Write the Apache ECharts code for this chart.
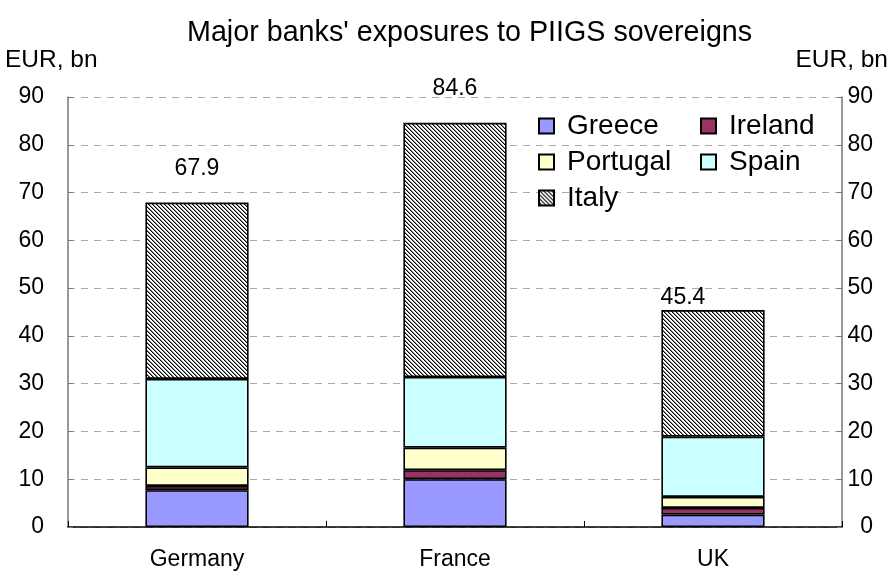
<!DOCTYPE html>
<html>
<head>
<meta charset="utf-8">
<script src="https://cdn.jsdelivr.net/npm/echarts@6/dist/echarts.min.js"></script>
<style>
  html, body { margin: 0; padding: 0; background: #fff; }
  #chart { width: 892px; height: 572px; }
</style>
</head>
<body>
<div id="chart"></div>
<script>
// Sovereign exposures by bank nationality, EUR bn
const categories = ['Germany', 'France', 'UK'];
const greece   = [7.7, 10.0, 2.6];
const ireland  = [0.9, 1.9, 1.4];
const portugal = [3.9, 4.7, 2.3];
const spain    = [18.5, 14.8, 12.6];
const italy    = [36.9, 53.2, 26.5];
const yTicks   = [0, 10, 20, 30, 40, 50, 60, 70, 80, 90];

// Placement tweaks for the total labels above each stack
const totalLabelOffsets = [[0, -17], [0, -18], [-30, 4]];

const FONT = '"Liberation Sans", Arial, sans-serif';

// Diagonal hatch tile for the Italy segments
function hatchPattern() {
  const size = 4;
  const c = document.createElement('canvas');
  c.width = size; c.height = size;
  const ctx = c.getContext('2d');
  ctx.fillStyle = '#ffffff';
  ctx.fillRect(0, 0, size, size);
  for (let y = 0; y < size; y++) {
    for (let x = 0; x < size; x++) {
      const d = ((x - y) % size + size) % size;
      if (d === 0) { ctx.fillStyle = '#000000'; ctx.fillRect(x, y, 1, 1); }
      else if (d === 1) { ctx.fillStyle = '#8a8a8a'; ctx.fillRect(x, y, 1, 1); }
    }
  }
  return { image: c, repeat: 'repeat' };
}

const totals = categories.map((_, i) =>
  greece[i] + ireland[i] + portugal[i] + spain[i] + italy[i]);

const borderStyle = { borderColor: '#000', borderWidth: 1.6 };

function barSeries(name, values, color) {
  return {
    name: name,
    type: 'bar',
    stack: 'total',
    barWidth: '40%',
    data: values,
    itemStyle: Object.assign({ color: color }, borderStyle),
    emphasis: { disabled: true }
  };
}

const italySeries = barSeries('Italy', italy.map((v, i) => ({
  value: v,
  label: {
    show: true,
    position: 'top',
    distance: 5,
    offset: totalLabelOffsets[i],
    formatter: () => totals[i].toFixed(1),
    fontFamily: FONT,
    fontSize: 23,
    color: '#000'
  }
})), hatchPattern());

const chart = echarts.init(document.getElementById('chart'), null, { renderer: 'canvas' });

const valueAxisBase = {
  type: 'value',
  min: yTicks[0],
  max: yTicks[yTicks.length - 1],
  interval: 10,
  axisLine: { show: true, lineStyle: { color: '#777', width: 1.5 } },
  axisTick: { show: true, inside: true, length: 5, lineStyle: { color: '#777' } },
  axisLabel: { fontFamily: FONT, fontSize: 23, color: '#000' }
};

const legendBase = {
  orient: 'vertical',
  top: 107,
  itemWidth: 15,
  itemHeight: 15,
  itemGap: 8,
  icon: 'rect',
  textStyle: { fontFamily: FONT, fontSize: 28, color: '#000', padding: [0, 0, 0, 8] }
};

chart.setOption({
  animation: false,
  backgroundColor: '#fff',
  title: {
    text: "Major banks' exposures to PIIGS sovereigns",
    left: 182,
    top: 14,
    textStyle: { fontFamily: FONT, fontSize: 28.7, fontWeight: 'normal', color: '#000' }
  },
  graphic: [
    { type: 'text', left: 5, top: 48, style: { text: 'EUR, bn', font: '24.5px ' + FONT, fill: '#000' } },
    { type: 'text', right: 4, top: 48, style: { text: 'EUR, bn', font: '24.5px ' + FONT, fill: '#000' } }
  ],
  legend: [
    Object.assign({}, legendBase, { data: ['Greece', 'Portugal', 'Italy'], left: 533 }),
    Object.assign({}, legendBase, { data: ['Ireland', 'Spain'], left: 695 })
  ],
  grid: { left: 68, right: 50, top: 97, bottom: 45, containLabel: false },
  xAxis: {
    type: 'category',
    data: categories,
    axisLine: { show: true, lineStyle: { color: '#000', width: 1.5 } },
    axisTick: { show: true, inside: true, length: 6, lineStyle: { color: '#000' } },
    axisLabel: { fontFamily: FONT, fontSize: 23, color: '#000', margin: 21 }
  },
  yAxis: [
    Object.assign({}, valueAxisBase, {
      position: 'left',
      axisLabel: Object.assign({}, valueAxisBase.axisLabel, { margin: 24 }),
      splitLine: { show: true, lineStyle: { color: '#aaa', type: [7, 6], width: 1 } }
    }),
    Object.assign({}, valueAxisBase, {
      position: 'right',
      axisLabel: Object.assign({}, valueAxisBase.axisLabel, { margin: 31, align: 'right' }),
      splitLine: { show: false }
    })
  ],
  series: [
    barSeries('Greece', greece, '#9999ff'),
    barSeries('Ireland', ireland, '#993366'),
    barSeries('Portugal', portugal, '#ffffcc'),
    barSeries('Spain', spain, '#ccffff'),
    italySeries
  ]
});
</script>
</body>
</html>
